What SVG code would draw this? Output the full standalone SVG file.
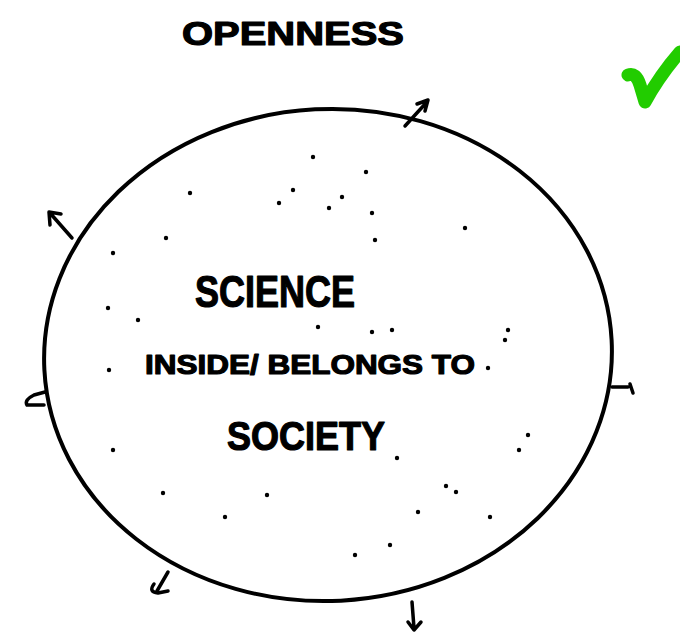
<svg xmlns="http://www.w3.org/2000/svg" width="680" height="637" viewBox="0 0 680 637">
<style>
.t{font-family:"Liberation Sans",Arial,sans-serif;font-weight:bold;fill:#000;stroke:#000;stroke-width:1.2;stroke-linejoin:round}
.ln{fill:none;stroke:#000;stroke-width:4;stroke-linecap:round;stroke-linejoin:round}
.ar{fill:none;stroke:#000;stroke-width:3.5;stroke-linecap:round;stroke-linejoin:round}
</style>
<rect width="680" height="637" fill="#fff"/>
<g id="title"><text class="t" x="293" y="45" font-size="34" text-anchor="middle" textLength="222" lengthAdjust="spacingAndGlyphs">OPENNESS</text></g>
<g id="check"><path d="M628 75 Q636 72 640 85 L645 102 Q660 75 680 52" fill="none" stroke="#22cc00" stroke-width="13" stroke-linecap="round" stroke-linejoin="round"/></g>
<g id="circle"><ellipse class="ln" cx="328" cy="355" rx="284" ry="246" transform="rotate(-3 328 355)"/></g>
<g id="connectors">
<path class="ar" d="M405 126 L426 103 M417 104 L428 100 L425 111"/>
<path class="ar" d="M72 238 L50 213 M50 225 L49 212 L61 214"/>
<path class="ar" d="M45 392 L34 395 Q24 400 27 405 L44 405"/>
<path class="ar" d="M612 387 L628 387 M630 384 L633 393"/>
<path class="ar" d="M168 572 L157 591 M154 584 Q148 592 158 593 L168 591"/>
<path class="ar" d="M412 602 L414 628 M408 622 L414 630 L421 622"/>
</g>
<g id="dots" fill="#000">
<circle cx="313" cy="157" r="2.2"/><circle cx="366" cy="172" r="2.2"/><circle cx="190" cy="193" r="2.2"/><circle cx="293" cy="190" r="2.2"/><circle cx="279" cy="203" r="2.2"/><circle cx="342" cy="197" r="2.2"/><circle cx="329" cy="208" r="2.2"/><circle cx="372" cy="213" r="2.2"/><circle cx="465" cy="228" r="2.2"/><circle cx="375" cy="240" r="2.2"/><circle cx="166" cy="238" r="2.2"/><circle cx="113" cy="253" r="2.2"/><circle cx="108" cy="308" r="2.2"/><circle cx="138" cy="320" r="2.2"/><circle cx="318" cy="327" r="2.2"/><circle cx="392" cy="330" r="2.2"/><circle cx="508" cy="330" r="2.2"/><circle cx="109" cy="370" r="2.2"/><circle cx="528" cy="435" r="2.2"/><circle cx="519" cy="450" r="2.2"/><circle cx="113" cy="450" r="2.2"/><circle cx="397" cy="458" r="2.2"/><circle cx="267" cy="495" r="2.2"/><circle cx="163" cy="493" r="2.2"/><circle cx="446" cy="486" r="2.2"/><circle cx="456" cy="492" r="2.2"/><circle cx="490" cy="517" r="2.2"/><circle cx="418" cy="512" r="2.2"/><circle cx="225" cy="517" r="2.2"/><circle cx="390" cy="545" r="2.2"/><circle cx="355" cy="555" r="2.2"/><circle cx="505" cy="340" r="2.2"/><circle cx="488" cy="368" r="2.2"/><circle cx="372" cy="332" r="2.2"/>
</g>
<g id="science"><text class="t" x="195" y="307" font-size="44" textLength="160" lengthAdjust="spacingAndGlyphs">SCIENCE</text></g>
<g id="inside"><text class="t" x="145" y="374" font-size="28" textLength="330" lengthAdjust="spacingAndGlyphs">INSIDE/ BELONGS TO</text></g>
<g id="society"><text class="t" x="227" y="450" font-size="40" textLength="158" lengthAdjust="spacingAndGlyphs">SOCIETY</text></g>
</svg>
